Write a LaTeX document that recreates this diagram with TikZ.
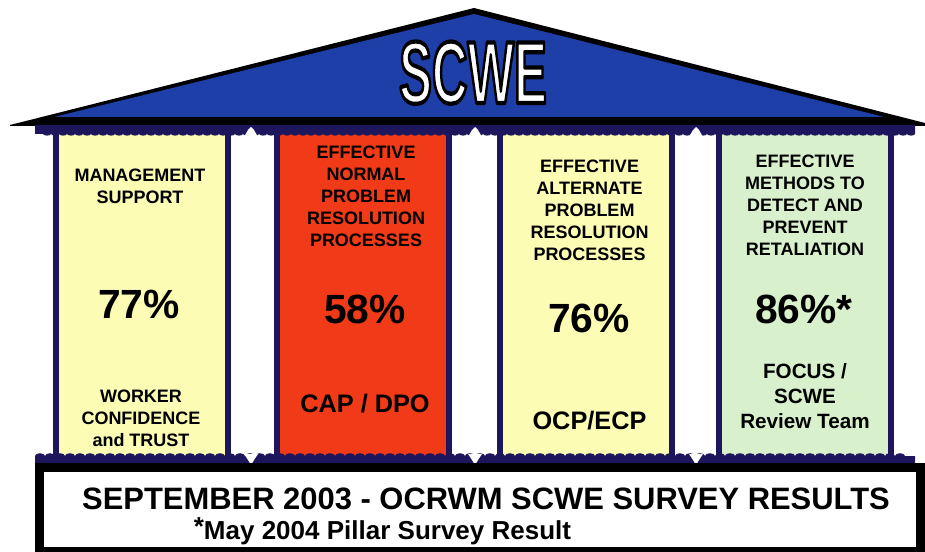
\documentclass[tikz,border=0pt]{standalone}
\usepackage{fontspec}
\setmainfont{Liberation Sans}
\usepackage{tikz}
\usetikzlibrary{calc}
\usetikzlibrary{decorations.pathmorphing}
\usepackage{xcolor}

\definecolor{roofblue}{RGB}{30,62,168}
\definecolor{navy}{RGB}{30,22,92}
\definecolor{paleyellow}{RGB}{252,252,180}
\definecolor{pillarred}{RGB}{240,58,24}
\definecolor{palegreen}{RGB}{216,240,204}

% white letters with a black rim
\newcommand{\rimtext}[1]{\special{pdf:literal direct 0 G 3 w 1 j 2 Tr}#1\special{pdf:literal direct 0 Tr}}

\begin{document}
\begin{tikzpicture}[x=0.25mm, y=-0.25mm,
  pillar/.style={draw=navy, line width=1.5mm},
  head/.style={font=\bfseries\fontsize{12.8}{15.6}\selectfont, align=center},
  pct/.style={font=\bfseries\fontsize{29}{34}\selectfont, anchor=base},
  tag/.style={font=\bfseries\fontsize{18}{21}\selectfont},
  team/.style={font=\bfseries\fontsize{14.7}{17.8}\selectfont, align=center},
  scwe/.style={font=\bfseries\fontsize{62.6}{70}\selectfont, anchor=base, inner sep=0},
  notch/.style={fill=white}]

\useasboundingbox (0,0) rectangle (925,552);

% roof
\fill (10,125) -- (474,8) -- (925,123) -- (925,126) -- (10,126) -- cycle;
\fill[roofblue] (54,117) -- (474,14) -- (884,117) -- cycle;

\node[scwe, text=white] (roofname) at (473,103) {\scalebox{0.56}[1]{\rimtext{SCWE}}};

% pillars
\foreach \cx/\col in {141.5/paleyellow, 362.5/pillarred, 586/paleyellow, 804.5/palegreen}
  \filldraw[pillar, fill=\col] (\cx-86,130) rectangle (\cx+86,460);

% capital and base
\fill[navy] (35,125) -- (915,125) -- (915,134)
  decorate[decoration={bumps, segment length=4mm, amplitude=0.4mm}] {-- (35,134)} -- cycle;
\fill[navy] (35,464) -- (35,456)
  decorate[decoration={bumps, segment length=5mm, amplitude=0.7mm}] {-- (915,456)} -- (915,464) -- cycle;

\foreach \gx in {251,475,696} {
  \fill[notch] (\gx-7,137) -- (\gx-3,130) -- (\gx,127) -- (\gx+3,130) -- (\gx+7,137) -- cycle;
  \fill[notch] (\gx-7,454) -- (\gx-3,460) -- (\gx,465) -- (\gx+3,460) -- (\gx+7,454) -- cycle;
}

% survey box
\draw[line width=2.25mm] (39.5,467.5) rectangle (920.5,551);

\node[head] (mgmt) at (140,186) {MANAGEMENT\\SUPPORT};
\node[head] (normal) at (366,196) {EFFECTIVE\\NORMAL\\PROBLEM\\RESOLUTION\\PROCESSES};
\node[head] (alternate) at (589.5,210) {EFFECTIVE\\ALTERNATE\\PROBLEM\\RESOLUTION\\PROCESSES};
\node[head] (retaliation) at (805,205) {EFFECTIVE\\METHODS TO\\DETECT AND\\PREVENT\\RETALIATION};

\node[pct] (pct-mgmt) at (139,319) {77\%};
\node[pct] (pct-normal) at (365,324) {58\%};
\node[pct] (pct-alternate) at (589,333) {76\%};
\node[pct] (pct-retaliation) at (804,324) {86\%*};

\node[head] (worker) at (141,418) {WORKER\\CONFIDENCE\\and TRUST};
\node[tag] (capdpo) at (365,403.5) {CAP / DPO};
\node[tag] (ocpecp) at (589.5,421) {OCP/ECP};
\node[team] (focus) at (805,396) {FOCUS /\\SCWE\\Review Team};

\node[font=\bfseries\fontsize{22}{26}\selectfont, anchor=base] (survey) at (486,509) {SEPTEMBER 2003 - OCRWM SCWE SURVEY RESULTS};
\node[font=\bfseries\fontsize{18.5}{22}\selectfont, anchor=base] (note) at (382.5,539) {\raisebox{0.15em}{*}May 2004 Pillar Survey Result};


\end{tikzpicture}
\end{document}
